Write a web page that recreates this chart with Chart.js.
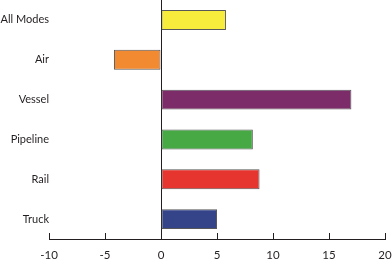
<!DOCTYPE html>
<html>
<head>
<meta charset="utf-8">
<script src="https://cdn.jsdelivr.net/npm/chart.js@4/dist/chart.umd.min.js"></script>
<style>
html,body{margin:0;padding:0;background:#fff;}
#wrap{width:392px;height:264px;}
</style>
</head>
<body>
<div id="wrap"><canvas id="c" width="392" height="264"></canvas></div>
<script>
const categories = ["All Modes", "Air", "Vessel", "Pipeline", "Rail", "Truck"];
const values = [5.8, -4.2, 17.0, 8.2, 8.8, 5.0];
const barColors = ["#f7ec3b", "#f18a31", "#7c2c69", "#46a944", "#e6342e", "#354489"];
const xTicks = [-10, -5, 0, 5, 10, 15, 20];

const ink = "#231f20";

const upTicks = {
  id: "upTicks",
  afterDraw(chart) {
    const x = chart.scales.x;
    const ctx = chart.ctx;
    const yb = chart.chartArea.bottom;
    ctx.save();
    ctx.strokeStyle = ink;
    ctx.lineWidth = 1;
    xTicks.forEach(v => {
      const px = Math.round(x.getPixelForValue(v)) + 0.5;
      ctx.beginPath();
      ctx.moveTo(px, yb);
      ctx.lineTo(px, yb - 6);
      ctx.stroke();
    });
    ctx.restore();
  }
};

new Chart(document.getElementById("c"), {
  type: "bar",
  data: {
    labels: categories,
    datasets: [{
      data: values,
      backgroundColor: barColors,
      borderColor: "#58585a",
      borderWidth: 1,
      borderSkipped: false,
      categoryPercentage: 1,
      barPercentage: 0.5
    }]
  },
  options: {
    indexAxis: "y",
    responsive: false,
    animation: false,
    layout: { padding: { top: 0, right: 0, bottom: 0, left: 0 } },
    plugins: { legend: { display: false }, tooltip: { enabled: false } },
    scales: {
      x: {
        type: "linear",
        min: -10,
        max: 20,
        afterBuildTicks(scale) { scale.ticks = xTicks.map(v => ({ value: v })); },
        afterFit(scale) { scale.height = 25; scale.paddingLeft = 0; scale.paddingRight = 7; },
        ticks: { color: ink, font: { family: "Lato", size: 11.5 }, padding: 9, maxRotation: 0 },
        grid: {
          drawTicks: false,
          color: c => (c.tick && c.tick.value === 0) ? ink : "rgba(0,0,0,0)",
          lineWidth: 1
        },
        border: { display: true, color: ink, width: 1 }
      },
      y: {
        afterFit(scale) { scale.width = 49; scale.paddingTop = 0; scale.paddingBottom = 0; },
        ticks: { color: ink, font: { family: "Lato", size: 11 }, padding: 0 },
        grid: { display: false, drawTicks: false },
        border: { display: false }
      }
    }
  },
  plugins: [upTicks]
});
</script>
</body>
</html>
